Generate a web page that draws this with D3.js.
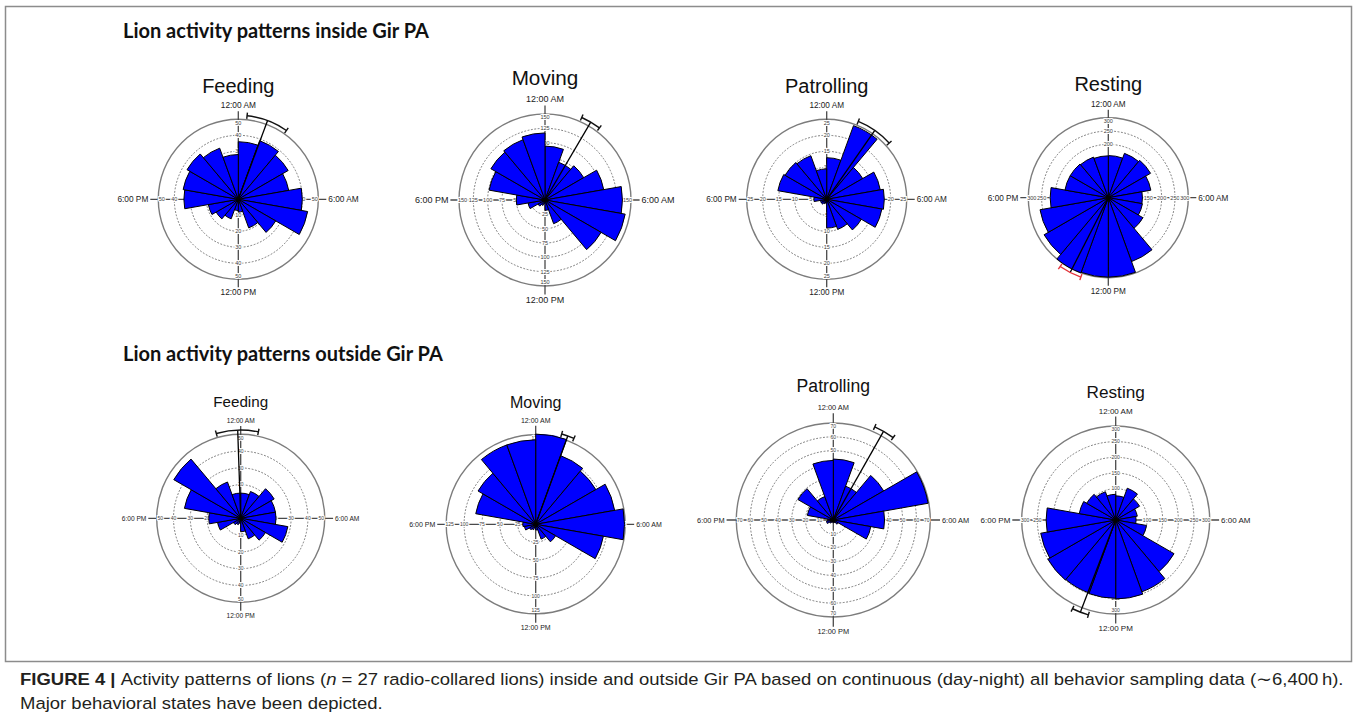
<!DOCTYPE html>
<html>
<head>
<meta charset="utf-8">
<script src="https://cdn.jsdelivr.net/npm/d3@7"></script>
<style>
  html, body { margin: 0; padding: 0; background: #fff; }
  svg { display: block; }
</style>
</head>
<body>
<svg id="fig" width="1357" height="721"></svg>
<script>
// 18 circular sectors of 80 minutes each, clockwise from midnight
const binStarts = ["0:00", "1:20", "2:40", "4:00", "5:20", "6:40", "8:00", "9:20", "10:40",
                   "12:00", "13:20", "14:40", "16:00", "17:20", "18:40", "20:00", "21:20", "22:40"];
// Clock labels at top, right, bottom, left
const clockLabels = ["12:00 AM", "6:00 AM", "12:00 PM", "6:00 PM"];
const behaviours = ["Feeding", "Moving", "Patrolling", "Resting"];
const sectionTitles = ["Lion activity patterns inside Gir PA", "Lion activity patterns outside Gir PA"];

// Observation counts per sector, inside Gir PA
const insideFeeding    = [36, 39, 36, 32, 40, 44, 27, 19, 8, 7, 13, 16, 19, 34, 35, 37, 34, 28];
const insideMoving     = [94, 70, 78, 104, 135, 142, 113, 44, 18, 6, 10, 14, 30, 50, 99, 109, 112, 117];
const insidePatrolling = [13, 24.5, 13, 17, 18, 17.5, 12.5, 10, 9, 1, 1.5, 2, 2, 4, 15.5, 15, 14.5, 9.5];
const insideResting    = [158, 177, 183, 162, 128, 130, 150, 255, 298, 298, 300, 278, 260, 218, 165, 165, 162, 157];

// Observation counts per sector, outside Gir PA
const outsideFeeding    = [15, 17, 23, 21, 21, 28.5, 17, 13, 8, 3, 4, 5, 14, 19, 34, 46, 23, 15];
const outsideMoving     = [126, 102, 97, 112, 124, 96, 32, 22, 8, 5, 8, 10, 16, 18, 85, 93, 118, 118];
const outsidePatrolling = [44, 26, 42, 69.5, 37, 27.5, 4, 2, 2, 1, 2, 3, 5, 4, 19, 29.5, 18, 43];
const outsideResting    = [77, 108, 88, 70, 65, 100, 215, 244, 252, 250, 248, 250, 243, 222, 118, 107, 96, 82];

// Radial ring values
const ticksFeedingIn    = [10, 20, 30, 40, 50];
const ticksMovingIn     = [25, 50, 75, 100, 125, 150];
const ticksPatrollingIn = [5, 10, 15, 20, 25];
const ticksRestingIn    = [50, 100, 150, 200, 250, 300];
const ticksFeedingOut    = [10, 20, 30, 40, 50];
const ticksMovingOut     = [25, 50, 75, 100, 125];
const ticksPatrollingOut = [10, 20, 30, 40, 50, 60, 70];
const ticksRestingOut    = [50, 100, 150, 200, 250, 300];

// Mean activity time (hours) with 95% confidence limits
const meanInside   = [1.36, 2.03, 2.33, 13.80];
const ciLowInside  = [0.40, 1.60, 1.47, 13.27];
const ciHighInside = [2.33, 2.47, 3.20, 14.33];
const meanOutside   = [23.87, 1.33, 1.97, 13.40];
const ciLowOutside  = [22.93, 1.07, 1.60, 13.07];
const ciHighOutside = [0.77, 1.60, 2.40, 13.73];

const svg = d3.select("#fig");
const FONT = "'Liberation Sans', Arial, Helvetica, sans-serif";

// Figure frame
svg.append("rect")
  .attr("x", 5.5).attr("y", 6.5).attr("width", 1346).attr("height", 655)
  .attr("fill", "none").attr("stroke", "#8c8c8c").attr("stroke-width", 1.5);

// Section headings
svg.selectAll("text.section")
  .data(sectionTitles)
  .join("text")
  .attr("class", "section")
  .attr("x", 123)
  .attr("y", (d, i) => [38, 361][i])
  .style("font-family", "Lato, 'Open Sans', sans-serif")
  .style("font-weight", "bold")
  .style("font-size", "20px")
  .attr("fill", "#111")
  .text(d => d);

// Panel layout
const layout = [
  { cx: 238.3,  cy: 199.3, R: 80,   titleY: 92.6,  titleSize: 20,   clockSize: 8.3, tickSize: 5.5 },
  { cx: 545,    cy: 200,   R: 86,   titleY: 84.7,  titleSize: 20.7, clockSize: 9,   tickSize: 5.5 },
  { cx: 826.7,  cy: 199.3, R: 80,   titleY: 92.6,  titleSize: 20,   clockSize: 8.2, tickSize: 5.5 },
  { cx: 1108.3, cy: 197.7, R: 80,   titleY: 91,    titleSize: 20,   clockSize: 8.2, tickSize: 5.5, ciColor: "#e3353c" },
  { cx: 240.7,  cy: 518.3, R: 84,   titleY: 406.6, titleSize: 15.2, clockSize: 6.6, tickSize: 5 },
  { cx: 535.7,  cy: 524.3, R: 89.5, titleY: 408,   titleSize: 16,   clockSize: 7,   tickSize: 5 },
  { cx: 833.3,  cy: 520,   R: 97,   titleY: 392,   titleSize: 17.6, clockSize: 7.4, tickSize: 5 },
  { cx: 1115.7, cy: 520,   R: 94,   titleY: 398.4, titleSize: 17.2, clockSize: 8,   tickSize: 5 }
];

const seriesList = [insideFeeding, insideMoving, insidePatrolling, insideResting,
                    outsideFeeding, outsideMoving, outsidePatrolling, outsideResting];
const tickList = [ticksFeedingIn, ticksMovingIn, ticksPatrollingIn, ticksRestingIn,
                  ticksFeedingOut, ticksMovingOut, ticksPatrollingOut, ticksRestingOut];
const means = meanInside.concat(meanOutside);
const ciLow = ciLowInside.concat(ciLowOutside);
const ciHigh = ciHighInside.concat(ciHighOutside);

const angle = d3.scaleBand().domain(binStarts).range([0, 2 * Math.PI]).paddingInner(0).paddingOuter(0);
const hourAngle = d3.scaleLinear().domain([0, 24]).range([0, 2 * Math.PI]);

function drawRose(i) {
  const p = layout[i];
  const values = seriesList[i];
  const ticks = tickList[i];
  const maxV = d3.max(ticks);
  const r = d3.scaleLinear().domain([0, maxV]).range([0, p.R]);
  const ext = p.R * 0.1;

  // Title
  svg.append("text")
    .attr("x", p.cx).attr("y", p.titleY)
    .attr("text-anchor", "middle")
    .style("font-family", FONT)
    .style("font-size", p.titleSize + "px")
    .attr("fill", "#111")
    .text(behaviours[i % 4]);

  const g = svg.append("g").attr("transform", `translate(${p.cx},${p.cy})`);

  // Dotted inner rings
  g.selectAll("circle.ring")
    .data(ticks.slice(0, -1))
    .join("circle")
    .attr("class", "ring")
    .attr("r", d => r(d))
    .attr("fill", "none")
    .attr("stroke", "#6a6a6a")
    .attr("stroke-width", 0.9)
    .attr("stroke-dasharray", "1.8,1.6");

  // Outer ring
  g.append("circle")
    .attr("r", r(maxV))
    .attr("fill", "none")
    .attr("stroke", "#7c7c7c")
    .attr("stroke-width", 1.4);

  // Cross axes
  g.append("line")
    .attr("x1", 0).attr("x2", 0)
    .attr("y1", -p.R - ext).attr("y2", p.R + ext)
    .attr("stroke", "#4a4a4a").attr("stroke-width", 1.3);
  g.append("line")
    .attr("y1", 0).attr("y2", 0)
    .attr("x1", -p.R - ext).attr("x2", p.R + ext)
    .attr("stroke", "#4a4a4a").attr("stroke-width", 1.3);

  // Ring value labels along the four axes
  const dirs = [[0, -1], [0, 1], [-1, 0], [1, 0]];
  const tickData = [];
  ticks.forEach(t => dirs.forEach(dv => tickData.push({ t, dv })));
  g.selectAll("text.tick")
    .data(tickData)
    .join("text")
    .attr("class", "tick")
    .attr("x", d => d.dv[0] * (d.t === maxV ? r(d.t) - 3.5 : r(d.t)))
    .attr("y", d => d.dv[1] * (d.t === maxV ? r(d.t) - 3.5 : r(d.t)))
    .attr("dy", "0.35em")
    .attr("text-anchor", "middle")
    .style("font-family", FONT)
    .style("font-size", p.tickSize + "px")
    .attr("fill", "#3a3a3a")
    .attr("stroke", "#fff")
    .attr("stroke-width", 2.2)
    .attr("paint-order", "stroke")
    .text(d => d.t);

  // Sector bars
  const arc = d3.arc()
    .innerRadius(0)
    .outerRadius(d => r(d.v))
    .startAngle(d => angle(d.k))
    .endAngle(d => angle(d.k) + angle.bandwidth());
  g.selectAll("path.bar")
    .data(binStarts.map((k, j) => ({ k, v: values[j] })))
    .join("path")
    .attr("class", "bar")
    .attr("d", arc)
    .attr("fill", "#0000fe")
    .attr("stroke", "#000")
    .attr("stroke-width", 1)
    .attr("stroke-linejoin", "round");
  g.append("circle").attr("r", 2.2).attr("fill", "#000");

  // Mean vector with confidence arc
  const rm = p.R * 1.05;
  const th = hourAngle(means[i]);
  g.append("line")
    .attr("x1", 0).attr("y1", 0)
    .attr("x2", rm * Math.sin(th)).attr("y2", -rm * Math.cos(th))
    .attr("stroke", "#000").attr("stroke-width", 1.3);
  let lo = ciLow[i], hi = ciHigh[i];
  if (hi < lo) hi += 24;
  const a0 = hourAngle(lo), a1 = hourAngle(hi);
  const ciCol = p.ciColor || "#111";
  const path = d3.path();
  path.arc(0, 0, rm, a0 - Math.PI / 2, a1 - Math.PI / 2);
  g.append("path")
    .attr("d", path.toString())
    .attr("fill", "none").attr("stroke", ciCol).attr("stroke-width", 1.4);
  [a0, a1].forEach(a => {
    g.append("line")
      .attr("x1", (rm - 3.2) * Math.sin(a)).attr("y1", -(rm - 3.2) * Math.cos(a))
      .attr("x2", (rm + 3.2) * Math.sin(a)).attr("y2", -(rm + 3.2) * Math.cos(a))
      .attr("stroke", ciCol).attr("stroke-width", 1.4);
  });

  // Clock labels
  const fs = p.clockSize;
  const lab = g.append("g")
    .style("font-family", FONT)
    .style("font-size", fs + "px")
    .attr("fill", "#1a1a1a");
  lab.append("text").attr("x", 0).attr("y", -p.R - ext - 3)
    .attr("text-anchor", "middle").text(clockLabels[0]);
  lab.append("text").attr("x", p.R + ext + 2).attr("y", 0).attr("dy", "0.35em")
    .attr("text-anchor", "start").text(clockLabels[1]);
  lab.append("text").attr("x", 0).attr("y", p.R + ext + 2 + fs * 0.74)
    .attr("text-anchor", "middle").text(clockLabels[2]);
  lab.append("text").attr("x", -p.R - ext - 2).attr("y", 0).attr("dy", "0.35em")
    .attr("text-anchor", "end").text(clockLabels[3]);
}

d3.range(8).forEach(drawRose);

// Caption, condensed horizontally to span the frame width
const cap = svg.append("g")
  .style("font-family", FONT)
  .style("font-size", "16.5px")
  .attr("fill", "#231f20");
const l1 = cap.append("text").attr("x", 0).attr("y", 685);
l1.append("tspan").attr("font-weight", "bold").text("FIGURE 4 | ");
l1.append("tspan").text("Activity patterns of lions (");
l1.append("tspan").attr("font-style", "italic").text("n");
l1.append("tspan").text(" = 27 radio-collared lions) inside and outside Gir PA based on continuous (day-night) all behavior sampling data (\u223C6,400\u2009h).");
cap.append("text").attr("x", 0).attr("y", 709).text("Major behavioral states have been depicted.");
const w1 = l1.node().getComputedTextLength();
const sx = 1324 / w1;
cap.attr("transform", `translate(20,0) scale(${sx},1)`);
</script>
</body>
</html>
